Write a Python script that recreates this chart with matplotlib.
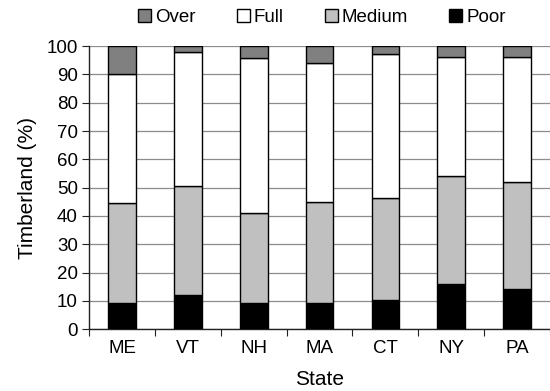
import matplotlib
matplotlib.use("Agg")
import matplotlib.pyplot as plt
import numpy as np
from matplotlib.patches import Patch

plt.rcParams['font.family'] = ['Liberation Sans', 'DejaVu Sans']

states = ["ME", "VT", "NH", "MA", "CT", "NY", "PA"]
poor = [9.2, 12.1, 9.2, 9.2, 10.2, 16.1, 14.2]
medium = [35.3, 38.5, 31.7, 35.6, 36.3, 37.9, 37.8]
full = [45.5, 47.2, 55.0, 49.1, 50.6, 42.0, 44.0]
over = [10.0, 2.2, 4.1, 6.1, 2.9, 4.0, 4.0]

series_names = ["Over", "Full", "Medium", "Poor"]
colors = {"Poor": "#000000", "Medium": "#c0c0c0", "Full": "#ffffff", "Over": "#808080"}

fig = plt.figure(figsize=(5.5, 3.91), dpi=100)
ax = fig.add_axes([0.162, 0.158, 0.838, 0.724])

x = np.arange(len(states))
w = 0.42
bottom = np.zeros(len(states))
for name, vals in [("Poor", poor), ("Medium", medium), ("Full", full), ("Over", over)]:
    ax.bar(x, vals, w, bottom=bottom, color=colors[name], edgecolor="black", linewidth=1.0, zorder=3)
    bottom += np.array(vals)

ax.set_ylim(0, 100)
ax.set_xlim(-0.5, 6.43)
ax.set_yticks(np.arange(0, 101, 10))
ax.yaxis.grid(True, color="#8c8c8c", linewidth=0.9, zorder=0)
ax.set_axisbelow(True)

ax.set_xticks(np.arange(-0.5, 7, 1.0))
ax.set_xticklabels([])
ax.set_xticks(x, minor=True)
ax.set_xticklabels(states, minor=True)
ax.tick_params(axis="x", which="minor", length=0, pad=8, labelsize=13.5)
ax.tick_params(axis="x", which="major", length=5, direction="out", color="#222222")
ax.tick_params(axis="y", length=5, direction="out", labelsize=13.5, color="#222222", pad=3)

for s in ["top", "right"]:
    ax.spines[s].set_visible(False)
for s in ["left", "bottom"]:
    ax.spines[s].set_color("#222222")
    ax.spines[s].set_linewidth(1.0)

ax.set_ylabel("Timberland (%)", fontsize=15, labelpad=7)
ax.set_xlabel("State", fontsize=15, labelpad=9)

handles = [Patch(facecolor=colors[n], edgecolor="black", linewidth=1.0, label=n) for n in series_names]
fig.legend(handles=handles, loc="center", bbox_to_anchor=(0.585, 0.955), ncol=4, frameon=False,
           fontsize=13.5, handlelength=0.7, handleheight=0.7, handletextpad=0.2, columnspacing=2.2)

fig.savefig("out.png", dpi=100)
